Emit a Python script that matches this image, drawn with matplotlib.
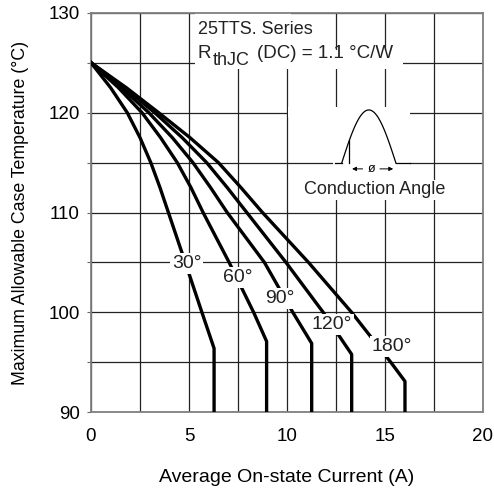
import numpy as np
import matplotlib.pyplot as plt
from matplotlib.patches import Rectangle

plt.rcParams['font.family'] = ['Liberation Sans', 'DejaVu Sans']

# curves: current (A) vs case temperature (°C)
angles = ['30°', '60°', '90°', '120°', '180°']
cur_30 = [0, 1.0, 1.85, 2.5, 3.05, 3.52, 3.95, 4.81, 5.66, 6.28, 6.28]
tmp_30 = [125, 122.5, 120, 117.5, 115, 112.5, 110, 105, 100, 96.4, 90]
cur_60 = [0, 1.4, 2.6, 3.55, 4.4, 5.1, 5.72, 7.05, 8.3, 8.96, 8.96]
tmp_60 = [125, 122.5, 120, 117.5, 115, 112.5, 110, 105, 100, 97.1, 90]
cur_90 = [0, 1.55, 2.95, 4.15, 5.2, 6.1, 6.95, 8.85, 10.3, 11.26, 11.26]
tmp_90 = [125, 122.5, 120, 117.5, 115, 112.5, 110, 105, 100, 96.9, 90]
cur_120 = [0, 1.7, 3.25, 4.65, 5.9, 6.95, 7.95, 9.95, 11.85, 13.3, 13.3]
tmp_120 = [125, 122.5, 120, 117.5, 115, 112.5, 110, 105, 100, 95.8, 90]
cur_180 = [0, 1.8, 3.45, 5.05, 6.5, 7.65, 8.75, 11.1, 13.3, 15.3, 16.02, 16.02]
tmp_180 = [125, 122.5, 120, 117.5, 115, 112.5, 110, 105, 100, 95, 93.1, 90]

# label positions (current, temperature)
lbl_x = [4.88, 7.47, 9.64, 12.28, 15.34]
lbl_y = [104.9, 103.5, 101.4, 98.77, 96.6]

xticks = [0, 5, 10, 15, 20]
yticks = [90, 100, 110, 120, 130]

fig = plt.figure(figsize=(4.94, 4.91), dpi=100)
ax = fig.add_axes([0.1842, 0.1603, 0.7935, 0.8137])

curves = [(cur_30, tmp_30), (cur_60, tmp_60), (cur_90, tmp_90),
          (cur_120, tmp_120), (cur_180, tmp_180)]
for (cx, cy) in curves:
    ax.plot(cx, cy, color='black', lw=2.4, solid_joinstyle='round', zorder=3)

for i, a in enumerate(angles):
    ax.text(lbl_x[i], lbl_y[i], a, fontsize=14, ha='center', va='center', color='#222222',
            bbox=dict(facecolor='white', edgecolor='none', pad=1.2), zorder=5)

ax.set_xlim(0, 20)
ax.set_ylim(90, 130)
ax.set_xticks(xticks)
ax.set_yticks(yticks)
ax.set_xticks(np.arange(0, 20.1, 2.5), minor=True)
ax.set_yticks(np.arange(90, 130.1, 5), minor=True)
ax.grid(True, which='both', color='#222222', lw=0.9, zorder=1)
ax.set_axisbelow(True)
ax.tick_params(axis='x', which='both', length=0, pad=11, labelsize=13.5)
ax.tick_params(axis='y', which='both', length=3, width=0.8, color='#666666', pad=5, labelsize=13.5)
for s in ax.spines.values():
    s.set_color('#808080')
    s.set_linewidth(1.3)

ax.set_xlabel('Average On-state Current (A)', fontsize=14, va='center')
ax.xaxis.set_label_coords(0.5, -0.162)
ax.set_ylabel('Maximum Allowable Case Temperature (°C)', fontsize=12.8, va='center')
ax.yaxis.set_label_coords(-0.18, 0.5)

# info text
ax.add_patch(Rectangle((5.3, 126.3), 4.9, 3.7, facecolor='white', edgecolor='none', zorder=2))
ax.add_patch(Rectangle((5.3, 124.4), 10.6, 1.9, facecolor='white', edgecolor='none', zorder=2))
ax.text(5.45, 128.3, '25TTS. Series', fontsize=13, ha='left', va='center', color='#222222', zorder=4)
ax.text(5.45, 125.9, 'R', fontsize=13.5, ha='left', va='center', color='#222222', zorder=4)
ax.text(6.2, 125.27, 'thJC', fontsize=13, ha='left', va='center', color='#222222', zorder=4)
ax.text(8.45, 125.9, '(DC) = 1.1 °C/W', fontsize=13.5, ha='left', va='center', color='#222222', zorder=4)

# conduction angle inset
ax.add_patch(Rectangle((12.35, 113.0), 3.95, 7.6, facecolor='white', edgecolor='none', zorder=2))
ax.add_patch(Rectangle((10.05, 119.6), 2.4, 1.0, facecolor='white', edgecolor='none', zorder=2))
x0, x1, base, peak, cut = 12.79, 15.56, 114.94, 120.27, 13.18
wx = np.linspace(x0, x1, 100)
wy = base + (peak - base) * np.sin(np.pi * (wx - x0) / (x1 - x0))
ax.plot(wx, wy, color='black', lw=0.9, zorder=4)
ax.plot([12.45, x0], [base, base], color='black', lw=0.9, zorder=4)
ax.plot([x1, 16.28], [base, base], color='black', lw=0.9, zorder=4)
cut_y = base + (peak - base) * np.sin(np.pi * (cut - x0) / (x1 - x0))
ax.plot([cut, cut], [base, cut_y], color='black', lw=0.9, zorder=4)
ax.annotate('', xy=(cut, 114.37), xytext=(14.0, 114.37),
            arrowprops=dict(arrowstyle='-|>', color='black', lw=0.7, mutation_scale=6), zorder=4)
ax.annotate('', xy=(x1, 114.37), xytext=(14.6, 114.37),
            arrowprops=dict(arrowstyle='-|>', color='black', lw=0.7, mutation_scale=6), zorder=4)
ax.text(14.3, 114.37, 'ø', fontsize=9, ha='center', va='center', zorder=4)
ax.text(14.5, 112.3, 'Conduction Angle', fontsize=13, ha='center', va='center', color='#222222',
        bbox=dict(facecolor='white', edgecolor='none', pad=1), zorder=4)

fig.savefig('out.png', dpi=100)
